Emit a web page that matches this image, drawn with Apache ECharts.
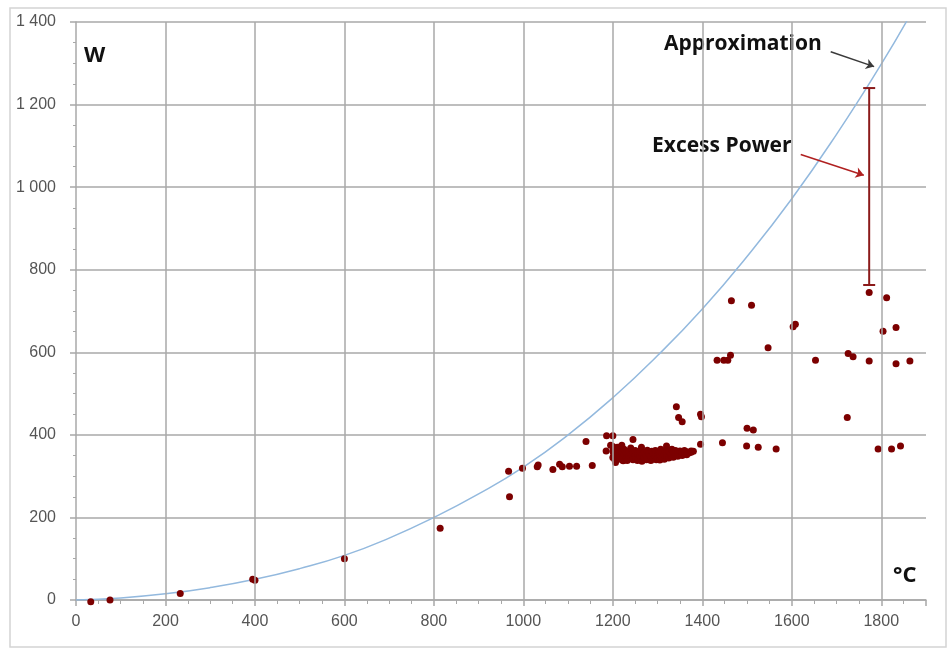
<!DOCTYPE html>
<html>
<head>
<meta charset="utf-8">
<script src="https://cdn.jsdelivr.net/npm/echarts@6/dist/echarts.min.js"></script>
<style>
  html, body { margin: 0; padding: 0; background: #fff; }
  #chart { width: 950px; height: 651px; }
</style>
</head>
<body>
<div id="chart"></div>
<script>
// approximation curve (°C, W)
var curveT = [0, 100, 200, 300, 400, 500, 600, 700, 800, 900, 1000, 1100, 1200, 1300, 1400, 1500, 1600, 1700, 1800, 1860];
var curveW = [0, 5, 15, 30, 50, 76, 108, 150, 200, 257, 322, 400, 490, 592, 705, 832, 972, 1128, 1298, 1408];

// measured points [°C, W]
var measured = [
  [33, -4], [76, 0], [233, 16], [395, 50], [400, 48], [600, 100], [814, 174],
  [967, 312], [969, 250], [998, 319], [1031, 323], [1033, 327], [1066, 316],
  [1081, 329], [1087, 323], [1103, 324], [1119, 324], [1140, 384], [1154, 326],
  [1186, 398], [1200, 398], [1185, 361], [1195, 375], [1206, 333], [1245, 389],
  [1264, 370], [1223, 337], [1342, 468], [1347, 442], [1355, 432], [1396, 450],
  [1398, 444], [1396, 377], [1320, 373],
  [1465, 725], [1510, 714], [1603, 662], [1608, 668], [1547, 611],
  [1433, 581], [1448, 581], [1457, 581], [1463, 593], [1653, 581],
  [1726, 597], [1737, 589], [1773, 579], [1773, 745], [1812, 732],
  [1804, 651], [1833, 660], [1833, 572], [1864, 579], [1724, 442],
  [1500, 416], [1514, 412], [1445, 381], [1499, 373], [1525, 370],
  [1565, 366], [1793, 366], [1823, 366], [1843, 373]
];

// the dense cluster around 1200-1380 °C
var cluster = [
  [1200, 345], [1200, 360], [1200, 372], [1202, 352], [1205, 338], [1205, 366],
  [1210, 355], [1210, 348], [1210, 370], [1212, 342], [1215, 362], [1215, 350],
  [1220, 340], [1220, 358], [1220, 375], [1222, 347], [1225, 352], [1225, 365],
  [1230, 343], [1230, 356], [1232, 338], [1235, 361], [1235, 349], [1240, 345],
  [1240, 368], [1242, 352], [1245, 340], [1245, 357], [1250, 350], [1250, 362],
  [1252, 344], [1255, 338], [1255, 355], [1260, 347], [1260, 360], [1262, 342],
  [1265, 352], [1265, 336], [1270, 345], [1270, 358], [1275, 340], [1275, 350],
  [1277, 363], [1280, 344], [1280, 355], [1285, 338], [1285, 349], [1287, 360],
  [1290, 343], [1290, 354], [1295, 347], [1295, 362], [1297, 340], [1300, 350],
  [1300, 344], [1302, 357], [1305, 339], [1305, 353], [1307, 365], [1310, 346],
  [1310, 358], [1315, 341], [1315, 352], [1317, 362], [1320, 348], [1320, 357],
  [1325, 344], [1325, 360], [1330, 350], [1330, 355], [1332, 365], [1335, 346],
  [1335, 359], [1340, 352], [1340, 362], [1345, 348], [1345, 357], [1350, 353],
  [1350, 361], [1355, 350], [1355, 358], [1360, 355], [1360, 362], [1365, 352],
  [1365, 359], [1370, 356], [1375, 358], [1375, 361], [1380, 360]
];

// excess power bar [°C, low W, high W]
var excessBar = [[1773, 763, 1240]];

var xTicks = [200, 400, 600, 800, 1000, 1200, 1400, 1600, 1800];

var gridColor = '#a8a8a8';
var dotColor = '#7c0000';

var chart = echarts.init(document.getElementById('chart'), null, { renderer: 'canvas' });

var curveData = curveT.map(function (t, i) { return [t, curveW[i]]; });

function fmtY(v) {
  if (v >= 1000) {
    var r = String(v % 1000);
    while (r.length < 3) r = '0' + r;
    return Math.floor(v / 1000) + ' ' + r;
  }
  return String(v);
}

var option = {
  backgroundColor: '#fff',
  animation: false,
  grid: { left: 76, right: 24, top: 22, bottom: 51 },
  xAxis: {
    type: 'value',
    min: 0,
    max: 1900,
    interval: 200,
    axisLine: { show: true, lineStyle: { color: gridColor, width: 1.5 } },
    axisTick: { show: true, length: 6, lineStyle: { color: gridColor, width: 1.5 } },
    minorTick: { show: true, splitNumber: 4, length: 4, lineStyle: { color: gridColor, width: 1 } },
    splitLine: { show: false },
    axisLabel: {
      showMaxLabel: false,
      margin: 14,
      color: '#555',
      fontFamily: 'Liberation Sans',
      fontSize: 16,
      formatter: function (v) { return String(v); }
    }
  },
  yAxis: {
    type: 'value',
    min: 0,
    max: 1400,
    interval: 200,
    axisLine: { show: true, lineStyle: { color: gridColor, width: 1.5 } },
    axisTick: { show: true, length: 6, lineStyle: { color: gridColor, width: 1.5 } },
    minorTick: { show: true, splitNumber: 4, length: 3, lineStyle: { color: gridColor, width: 1 } },
    splitLine: { show: true, lineStyle: { color: gridColor, width: 1.5 } },
    axisLabel: {
      margin: 20,
      color: '#555',
      fontFamily: 'Liberation Sans',
      fontSize: 16,
      formatter: fmtY
    }
  },
  series: [
    {
      // vertical grid lines (no line at the axis end)
      type: 'line',
      data: [],
      silent: true,
      z: 1,
      markLine: {
        silent: true,
        symbol: ['none', 'none'],
        label: { show: false },
        lineStyle: { color: gridColor, width: 1.5, type: 'solid' },
        data: xTicks.map(function (t) { return { xAxis: t }; })
      }
    },
    {
      name: 'Approximation',
      type: 'line',
      data: curveData,
      smooth: true,
      showSymbol: false,
      lineStyle: { color: '#93b9de', width: 1.5 },
      z: 3
    },
    {
      name: 'Measured',
      type: 'scatter',
      data: measured.concat(cluster),
      symbolSize: 7,
      clip: false,
      itemStyle: { color: dotColor, opacity: 1 },
      z: 4
    },
    {
      name: 'Excess Power',
      type: 'custom',
      data: excessBar,
      z: 5,
      renderItem: function (params, api) {
        var x = api.value(0);
        var top = api.coord([x, api.value(2)]);
        var bot = api.coord([x, api.value(1)]);
        var hw = 6;
        var style = { stroke: '#8b1a1a', lineWidth: 2 };
        return {
          type: 'group',
          children: [
            { type: 'line', shape: { x1: top[0], y1: top[1], x2: bot[0], y2: bot[1] }, style: style },
            { type: 'line', shape: { x1: top[0] - hw, y1: top[1], x2: top[0] + hw, y2: top[1] }, style: style },
            { type: 'line', shape: { x1: bot[0] - hw, y1: bot[1], x2: bot[0] + hw, y2: bot[1] }, style: style }
          ]
        };
      }
    },
    {
      // annotation arrows
      type: 'line',
      data: [],
      silent: true,
      z: 6,
      markLine: {
        silent: true,
        symbol: ['none', 'arrow'],
        symbolSize: 8,
        label: { show: false },
        data: [
          [
            { coord: [1687, 1328], lineStyle: { color: '#3a3a3a', width: 1.5, type: 'solid' } },
            { coord: [1784, 1292] }
          ],
          [
            { coord: [1620, 1079], lineStyle: { color: '#b02020', width: 1.5, type: 'solid' } },
            { coord: [1761, 1029] }
          ]
        ]
      }
    }
  ],
  graphic: [
    {
      type: 'rect',
      shape: { x: 10, y: 8, width: 936, height: 639 },
      style: { fill: 'none', stroke: '#d4d4d4', lineWidth: 1.5 },
      z: -1,
      silent: true
    },
    {
      type: 'text', left: 84, top: 45,
      style: { text: 'W', fill: '#111', font: 'bold 22px "Open Sans"' }
    },
    {
      type: 'text', left: 664, top: 34,
      style: { text: 'Approximation', fill: '#111', font: 'bold 21px "Open Sans"' }
    },
    {
      type: 'text', left: 652, top: 136,
      style: { text: 'Excess Power', fill: '#111', font: 'bold 21px "Open Sans"' }
    },
    {
      type: 'text', left: 893, top: 565,
      style: { text: '°C', fill: '#111', font: 'bold 22px "Open Sans"' }
    }
  ]
};

chart.setOption(option);
</script>
</body>
</html>
